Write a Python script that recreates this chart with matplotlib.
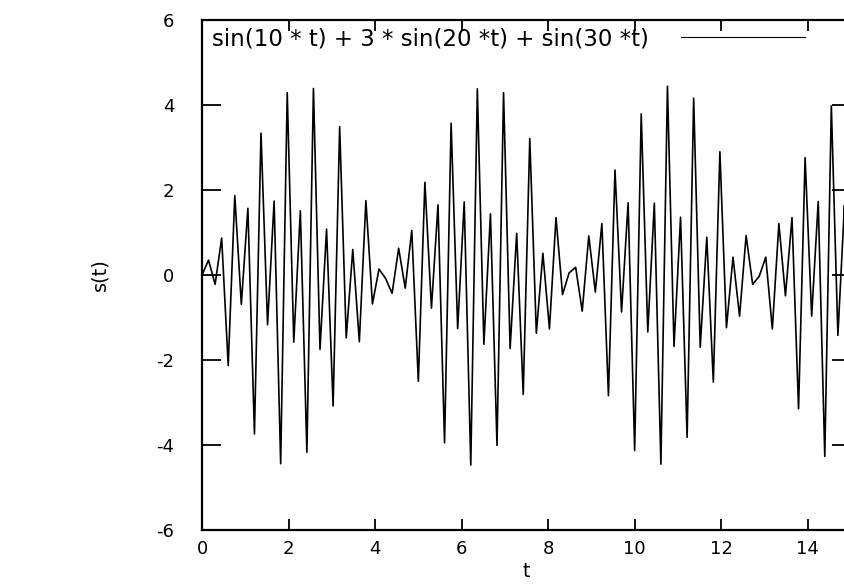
import numpy as np
import matplotlib
matplotlib.use("Agg")
import matplotlib.pyplot as plt

# s(t) sampled at 100 points over [0, 15]
s_values = [
    0.00, 0.35, -0.22, 0.87, -2.13, 1.87, -0.69, 1.57, -3.74, 3.34,
    -1.17, 1.74, -4.44, 4.29, -1.58, 1.51, -4.17, 4.39, -1.75, 1.08,
    -3.08, 3.49, -1.48, 0.60, -1.57, 1.75, -0.68, 0.14, -0.08, -0.43,
    0.63, -0.31, 1.05, -2.50, 2.18, -0.78, 1.65, -3.95, 3.57, -1.26,
    1.72, -4.47, 4.38, -1.63, 1.44, -4.01, 4.29, -1.73, 0.98, -2.81,
    3.21, -1.37, 0.51, -1.27, 1.35, -0.46, 0.05, 0.18, -0.85, 0.92,
    -0.40, 1.21, -2.84, 2.47, -0.87, 1.70, -4.13, 3.79, -1.34, 1.69,
    -4.45, 4.44, -1.68, 1.36, -3.82, 4.16, -1.70, 0.89, -2.52, 2.90,
    -1.24, 0.42, -0.97, 0.93, -0.22, -0.03, 0.42, -1.27, 1.21, -0.49,
    1.35, -3.15, 2.76, -0.97, 1.73, -4.27, 3.98, -1.42, 1.64, -4.40,
]
t_start, t_end = 0, 15
x_ticks = [0, 2, 4, 6, 8, 10, 12, 14]
y_ticks = [-6, -4, -2, 0, 2, 4, 6]
legend_label = "sin(10 * t) + 3 * sin(20 *t) + sin(30 *t)"

t = np.linspace(t_start, t_end, len(s_values))

plt.rcParams['font.family'] = ['DejaVu Sans']
plt.rcParams['axes.unicode_minus'] = False

fig = plt.figure(figsize=(8.44, 5.85), dpi=100)
# right edge of the frame sits just past the figure edge, like the original
ax = fig.add_axes([202/844, 55/585, 649/844, 510/585])

line, = ax.plot(t, s_values, color='black', lw=1.2)

ax.set_xlim(t_start, t_end)
ax.set_ylim(-6, 6)
ax.set_xticks(x_ticks)
ax.set_yticks(y_ticks)
ax.tick_params(axis='both', direction='in', labelsize=13, width=1.3,
               top=True, right=True)
ax.tick_params(axis='y', length=13.5, pad=20)
ax.tick_params(axis='x', length=8, pad=7)
for sp in ax.spines.values():
    sp.set_linewidth(1.6)

ax.set_xlabel('t', fontsize=13.5, labelpad=3)
ax.set_ylabel('s(t)', fontsize=14, labelpad=34)

leg = fig.legend([line], [legend_label], loc='center right',
                 bbox_to_anchor=(805/844, 1 - 39/585), frameon=False,
                 markerfirst=False, handlelength=5.4, handletextpad=1.4,
                 fontsize=16.5, borderpad=0, borderaxespad=0)
leg.get_lines()[0].set_linewidth(0.8)

fig.savefig('out.png', dpi=100)
